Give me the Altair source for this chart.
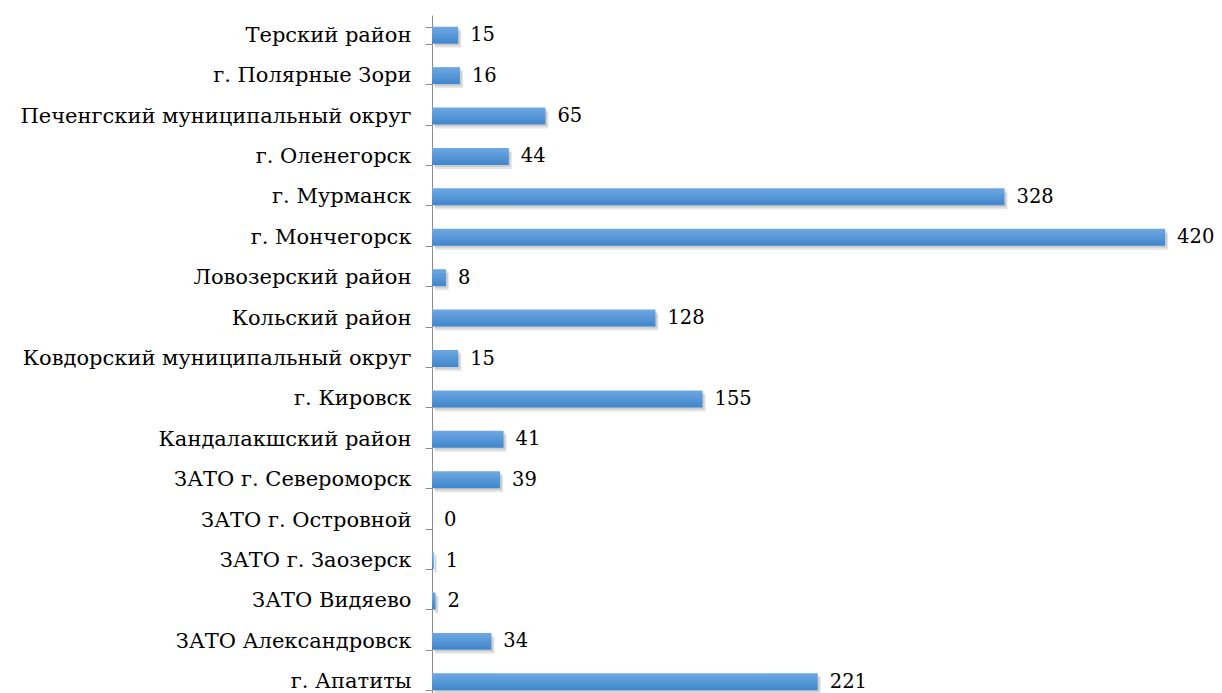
import altair as alt
import pandas as pd

categories = [
    "Терский район",
    "г. Полярные Зори",
    "Печенгский муниципальный округ",
    "г. Оленегорск",
    "г. Мурманск",
    "г. Мончегорск",
    "Ловозерский район",
    "Кольский район",
    "Ковдорский муниципальный округ",
    "г. Кировск",
    "Кандалакшский район",
    "ЗАТО г. Североморск",
    "ЗАТО г. Островной",
    "ЗАТО г. Заозерск",
    "ЗАТО Видяево",
    "ЗАТО Александровск",
    "г. Апатиты",
]
values = [15, 16, 65, 44, 328, 420, 8, 128, 15, 155, 41, 39, 0, 1, 2, 34, 221]

df = pd.DataFrame({"cat": categories, "val": values})

FONT = "DejaVu Serif"

y_enc = alt.Y(
    "cat:N",
    sort=categories,
    scale=alt.Scale(paddingInner=0.58, paddingOuter=0.29),
    axis=alt.Axis(
        title=None,
        labelFont=FONT,
        labelFontSize=21,
        labelColor="#000000",
        labelPadding=14,
        labelLimit=600,
        tickBand="extent",
        tickSize=7,
        tickColor="#8c8c8c",
        domainColor="#8c8c8c",
        grid=False,
    ),
)
x_enc = alt.X(
    "val:Q",
    scale=alt.Scale(domain=[0, 440], nice=False),
    axis=None,
)

base = alt.Chart(df).encode(y=y_enc, x=x_enc)

shadow1 = base.mark_bar(color="#000000", opacity=0.10, xOffset=3, yOffset=4)
shadow2 = base.mark_bar(color="#000000", opacity=0.10, xOffset=2, yOffset=2)

bars = base.mark_bar(
    color=alt.Gradient(
        gradient="linear",
        x1=0, y1=0, x2=0, y2=1,
        stops=[
            alt.GradientStop(offset=0, color="#6fa8e2"),
            alt.GradientStop(offset=1, color="#3f86cc"),
        ],
    )
)

labels = base.mark_text(
    align="left", baseline="middle", dx=12, font=FONT, fontSize=19.5, color="#000000"
).encode(text="val:Q")

chart = (
    alt.layer(shadow1, shadow2, bars, labels)
    .properties(
        width=768,
        height=687,
        background="#ffffff",
        autosize=alt.AutoSizeParams(type="none"),
        padding={"left": 424, "top": 7, "right": 14, "bottom": 0},
    )
    .configure(font=FONT)
    .configure_view(stroke="transparent", strokeWidth=0)
)

chart.save("out.html", embed_options={"renderer": "svg", "actions": False})
